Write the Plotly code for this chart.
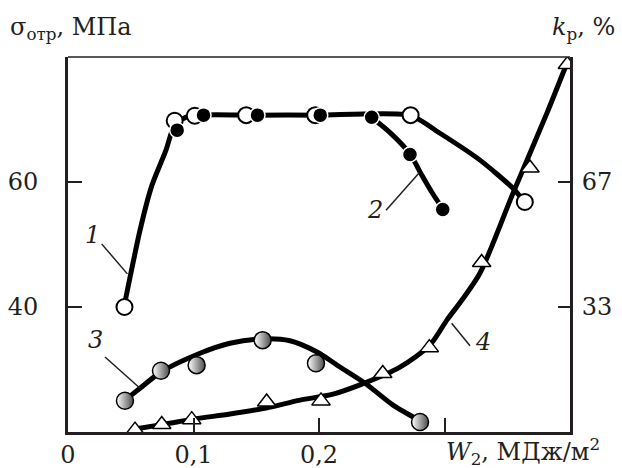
import plotly.graph_objects as go

# ---------------- data ----------------
# curve 1: sigma_otr, open circles (left axis, MPa)
c1_x = [0.045, 0.085, 0.101, 0.142, 0.197, 0.273, 0.364]
c1_y = [40.0, 69.8, 70.6, 70.7, 70.7, 70.7, 56.8]
# fitted line of curve 1
f1_x = [0.0446, 0.0574, 0.0669, 0.0781, 0.0853, 0.0972, 0.15, 0.2, 0.2725, 0.2964, 0.3283, 0.3546, 0.3625]
f1_y = [40.0, 52.3, 59.5, 65.1, 69.3, 70.6, 70.7, 70.7, 70.7, 67.8, 63.5, 59.0, 57.1]

# curve 2: filled circles (left axis, MPa)
c2_x = [0.087, 0.108, 0.151, 0.201, 0.242, 0.2725, 0.2986]
c2_y = [68.3, 70.7, 70.7, 70.7, 70.35, 64.4, 55.6]
f2_x = [0.2415, 0.2566, 0.2725, 0.2805, 0.2898, 0.2986]
f2_y = [70.4, 67.9, 64.5, 61.6, 58.4, 55.7]

# curve 3: grey circles (left axis, MPa)
c3_x = [0.0454, 0.0741, 0.1025, 0.1551, 0.1976, 0.2805]
c3_y = [25.0, 29.8, 30.7, 34.7, 31.0, 21.6]
f3_x = [0.0454, 0.0574, 0.0741, 0.1052, 0.1291, 0.1546, 0.1769, 0.1984, 0.2167, 0.2367, 0.2590, 0.2805]
f3_y = [25.1, 27.0, 29.6, 32.6, 34.2, 34.9, 34.6, 32.8, 30.4, 27.8, 24.3, 21.8]

# curve 4: k_p, triangles (right axis, %)
c4_x = [0.0534, 0.0747, 0.0986, 0.1583, 0.2016, 0.2508, 0.2879, 0.3296, 0.3681, 0.3979]
c4_y = [0.5, 2.0, 3.3, 8.0, 8.3, 15.6, 22.5, 45.2, 70.4, 98.0]
f4_x = [0.0534, 0.0773, 0.1012, 0.1291, 0.1578, 0.1849, 0.2112, 0.2367, 0.2645, 0.2884, 0.3020, 0.3139, 0.3283, 0.3546, 0.3817, 0.3976]
f4_y = [0.8, 2.1, 3.5, 4.8, 6.4, 8.5, 10.1, 13.1, 17.3, 23.2, 29.9, 35.2, 42.4, 63.7, 85.1, 98.4]

x_ticks = [0, 0.1, 0.2, 0.3]
x_ticktext = ["0", "0,1", "0,2", ""]
y_ticks = [40, 60]
y2_ticks = [100 / 3, 200 / 3]
y2_ticktext = ["33", "67"]

FONT = "DejaVu Serif"
INK = "#231f20"
LW = 5

fig = go.Figure()

# curve 3
fig.add_trace(go.Scatter(x=f3_x, y=f3_y, mode="lines",
                         line=dict(color="black", width=LW, shape="spline", smoothing=0.8),
                         hoverinfo="skip", showlegend=False))
fig.add_trace(go.Scatter(x=c3_x, y=c3_y, mode="markers",
                         marker=dict(symbol="circle", size=17, color="white",
                                     gradient=dict(type="horizontal", color="#4a4a4a"),
                                     line=dict(color="black", width=1.5)),
                         showlegend=False))
# curve 1
fig.add_trace(go.Scatter(x=f1_x, y=f1_y, mode="lines",
                         line=dict(color="black", width=LW, shape="spline", smoothing=0.6),
                         hoverinfo="skip", showlegend=False))
fig.add_trace(go.Scatter(x=c1_x, y=c1_y, mode="markers",
                         marker=dict(symbol="circle", size=16, color="white",
                                     line=dict(color="black", width=2)),
                         showlegend=False))
# curve 2
fig.add_trace(go.Scatter(x=f2_x, y=f2_y, mode="lines",
                         line=dict(color="black", width=LW, shape="spline", smoothing=0.8),
                         hoverinfo="skip", showlegend=False))
fig.add_trace(go.Scatter(x=c2_x, y=c2_y, mode="markers",
                         marker=dict(symbol="circle", size=15, color="black",
                                     line=dict(color="white", width=1.5)),
                         showlegend=False))
# curve 4 (right axis)
fig.add_trace(go.Scatter(x=f4_x, y=f4_y, mode="lines", yaxis="y2",
                         line=dict(color="black", width=LW, shape="spline", smoothing=0.8),
                         hoverinfo="skip", showlegend=False))
fig.add_trace(go.Scatter(x=c4_x, y=c4_y, mode="markers", yaxis="y2",
                         marker=dict(symbol="triangle-up", size=16, color="white",
                                     line=dict(color="black", width=1.5)),
                         showlegend=False))

W, H = 622, 468
# plot area in page pixels: x 68..570, y 57..432
L, R, T, B = 68, 570, 57, 432


def px(xp):
    return (xp - L) / (R - L)


def py(yp):
    return (B - yp) / (B - T)


FS = 24
tick_font = dict(family=FONT, size=FS, color=INK)

fig.update_layout(
    width=W, height=H,
    margin=dict(l=L, r=W - R, t=T, b=H - B, pad=0, autoexpand=False),
    paper_bgcolor="white", plot_bgcolor="white",
    showlegend=False,
    xaxis=dict(range=[0, 0.4], showgrid=False, zeroline=False,
               showline=True, linecolor=INK, linewidth=3,
               ticks="inside", ticklen=14, tickwidth=2, tickcolor=INK,
               tickvals=x_ticks, ticktext=x_ticktext, tickfont=tick_font,
               ticklabelstandoff=-1),
    yaxis=dict(range=[20, 80], showgrid=False, zeroline=False,
               showline=True, linecolor=INK, linewidth=3,
               ticks="inside", ticklen=14, tickwidth=2, tickcolor=INK,
               tickvals=y_ticks, tickfont=tick_font, ticklabelstandoff=22),
    yaxis2=dict(range=[0, 100], overlaying="y", side="right",
                showgrid=False, zeroline=False,
                showline=True, linecolor=INK, linewidth=3,
                ticks="inside", ticklen=12, tickwidth=2, tickcolor=INK,
                tickvals=y2_ticks, ticktext=y2_ticktext, tickfont=tick_font,
                ticklabelstandoff=4),
)

# thin top border
fig.add_shape(type="line", xref="paper", yref="paper", x0=0, x1=1, y0=1, y1=1,
              line=dict(color=INK, width=1.5))

# curve numbers + leader lines
num_font = dict(family=FONT, size=FS, color=INK)
labels = [("1", 0.0199, 51.5), ("2", 0.2446, 55.5), ("3", 0.0223, 34.7), ("4", 0.3307, 34.4)]
for t, xx, yy in labels:
    fig.add_annotation(x=xx, y=yy, xref="x", yref="y", text="<i>" + t + "</i>",
                       showarrow=False, font=num_font, xanchor="center", yanchor="middle")
leaders = [(0.0268, 50.1, 0.0473, 45.3), (0.2534, 55.5, 0.2799, 61.5),
           (0.0295, 32.0, 0.0574, 27.0), (0.3057, 37.4, 0.3203, 33.8)]
for x0, y0, x1, y1 in leaders:
    fig.add_shape(type="line", xref="x", yref="y", x0=x0, y0=y0, x1=x1, y1=y1,
                  line=dict(color=INK, width=1.5))

# axis titles
title_font = dict(family=FONT, size=FS, color=INK)
fig.add_annotation(xref="paper", yref="paper", x=px(8), y=py(28), xanchor="left", yanchor="middle",
                   text="σ<sub>отр</sub>, МПа", showarrow=False, font=title_font)
fig.add_annotation(xref="paper", yref="paper", x=px(617), y=py(28), xanchor="right", yanchor="middle",
                   text="<i>k</i><sub>р</sub>, %", showarrow=False, font=title_font)
fig.add_annotation(xref="paper", yref="paper", x=px(444), y=py(452), xanchor="left", yanchor="middle",
                   text="<i>W</i><sub>2</sub>, МДж/м<sup>2</sup>", showarrow=False, font=title_font)

fig.write_html("out.html", config={"displayModeBar": False},
               post_script="document.body.style.margin='0';document.body.style.overflow='hidden';")
